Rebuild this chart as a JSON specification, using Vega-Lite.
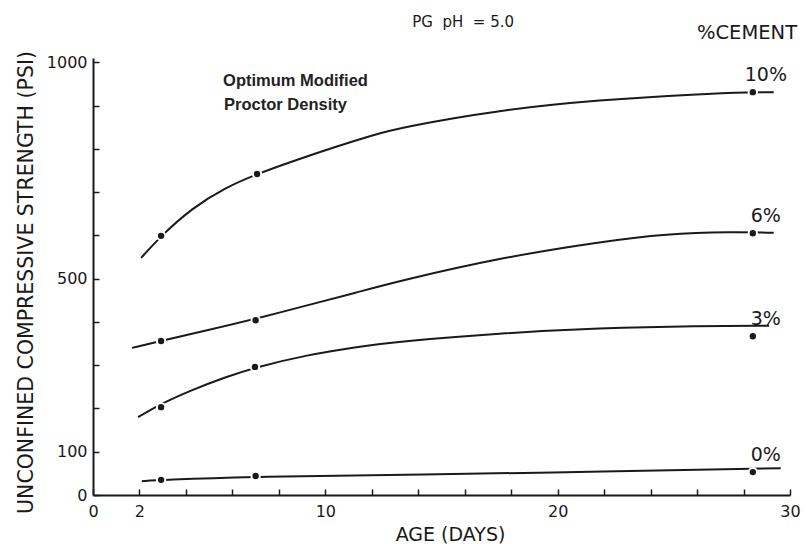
{
  "$schema": "https://vega.github.io/schema/vega-lite/v6.json",
  "width": 697,
  "height": 437,
  "autosize": {"type": "none"},
  "padding": {"left": 93, "top": 58, "right": 16, "bottom": 49},
  "background": "white",
  "config": {
    "view": {"stroke": null},
    "axis": {
      "grid": false,
      "domainColor": "#1a1a1a",
      "domainWidth": 2,
      "tickColor": "#1a1a1a",
      "tickWidth": 1.5,
      "labelColor": "#1a1a1a",
      "titleColor": "#1a1a1a",
      "labelFont": "DejaVu Sans",
      "titleFont": "DejaVu Sans",
      "titleFontWeight": "normal",
      "labelFlush": false,
      "labelOverlap": false,
      "labelBound": false
    }
  },
  "datasets": {
    "curves": [
      {"series": "10%", "day": 2.07, "psi": 548},
      {"series": "10%", "day": 2.93, "psi": 599},
      {"series": "10%", "day": 4.26, "psi": 663},
      {"series": "10%", "day": 5.68, "psi": 710},
      {"series": "10%", "day": 7.06, "psi": 742},
      {"series": "10%", "day": 8.57, "psi": 771},
      {"series": "10%", "day": 10.5, "psi": 806},
      {"series": "10%", "day": 12.0, "psi": 831},
      {"series": "10%", "day": 13.2, "psi": 849},
      {"series": "10%", "day": 17.5, "psi": 890},
      {"series": "10%", "day": 21.8, "psi": 913},
      {"series": "10%", "day": 26.1, "psi": 927},
      {"series": "10%", "day": 28.4, "psi": 931},
      {"series": "10%", "day": 29.3, "psi": 931},
      {"series": "6%", "day": 1.68, "psi": 340},
      {"series": "6%", "day": 2.93, "psi": 356},
      {"series": "6%", "day": 4.95, "psi": 381},
      {"series": "6%", "day": 7.0, "psi": 407},
      {"series": "6%", "day": 9.25, "psi": 439},
      {"series": "6%", "day": 11.28, "psi": 467},
      {"series": "6%", "day": 13.2, "psi": 495},
      {"series": "6%", "day": 17.5, "psi": 548},
      {"series": "6%", "day": 21.8, "psi": 585},
      {"series": "6%", "day": 24.7, "psi": 604},
      {"series": "6%", "day": 27.5, "psi": 608},
      {"series": "6%", "day": 29.3, "psi": 606},
      {"series": "3%", "day": 1.94, "psi": 180},
      {"series": "3%", "day": 2.93, "psi": 211},
      {"series": "3%", "day": 4.26, "psi": 243},
      {"series": "3%", "day": 5.68, "psi": 272},
      {"series": "3%", "day": 6.97, "psi": 295},
      {"series": "3%", "day": 9.25, "psi": 324},
      {"series": "3%", "day": 11.28, "psi": 342},
      {"series": "3%", "day": 13.2, "psi": 355},
      {"series": "3%", "day": 17.5, "psi": 374},
      {"series": "3%", "day": 21.8, "psi": 386},
      {"series": "3%", "day": 26.1, "psi": 391},
      {"series": "3%", "day": 29.1, "psi": 391},
      {"series": "0%", "day": 2.1, "psi": 32},
      {"series": "0%", "day": 2.93, "psi": 35},
      {"series": "0%", "day": 7.0, "psi": 43},
      {"series": "0%", "day": 14.08, "psi": 47},
      {"series": "0%", "day": 22.0, "psi": 54},
      {"series": "0%", "day": 29.6, "psi": 62}
    ],
    "points": [
      {"series": "10%", "day": 2.93, "psi": 599},
      {"series": "10%", "day": 7.06, "psi": 742},
      {"series": "10%", "day": 28.4, "psi": 931},
      {"series": "6%", "day": 2.93, "psi": 356},
      {"series": "6%", "day": 7.0, "psi": 404},
      {"series": "6%", "day": 28.4, "psi": 605},
      {"series": "3%", "day": 2.93, "psi": 203},
      {"series": "3%", "day": 6.97, "psi": 296},
      {"series": "3%", "day": 28.4, "psi": 367},
      {"series": "0%", "day": 2.93, "psi": 35},
      {"series": "0%", "day": 7.0, "psi": 44},
      {"series": "0%", "day": 28.4, "psi": 53}
    ]
  },
  "layer": [
    {
      "data": {"name": "curves"},
      "mark": {"type": "line", "interpolate": "basis", "color": "#1a1a1a", "strokeWidth": 2},
      "encoding": {
        "x": {
          "field": "day",
          "type": "quantitative",
          "scale": {"domain": [0, 30], "nice": false, "zero": false},
          "axis": {
            "title": "AGE (DAYS)",
            "values": [0, 2, 4, 6, 8, 10, 12, 14, 16, 18, 20, 22, 24, 26, 28, 30],
            "labelExpr": "indexof([0,2,10,20,30], datum.value) >= 0 ? datum.label : ''",
            "tickSize": -6,
            "labelPadding": 14,
            "labelFontSize": 16,
            "titleFontSize": 19,
            "titleX": 357,
            "titleY": 45,
            "titleAlign": "center",
            "titleBaseline": "alphabetic"
          }
        },
        "y": {
          "field": "psi",
          "type": "quantitative",
          "scale": {"domain": [0, 1010], "nice": false},
          "axis": {
            "title": "UNCONFINED COMPRESSIVE STRENGTH (PSI)",
            "format": "d",
            "values": [0, 100, 200, 300, 400, 500, 600, 700, 800, 900, 1000],
            "labelExpr": "indexof([0,100,500,1000], datum.value) >= 0 ? datum.label : ''",
            "tickSize": -6,
            "labelPadding": 12,
            "labelFontSize": 16,
            "titleFontSize": 20.5,
            "titleX": -61,
            "titleY": 224,
            "titleAlign": "center",
            "titleBaseline": "alphabetic"
          }
        },
        "detail": {"field": "series"}
      }
    },
    {
      "data": {"name": "points"},
      "mark": {"type": "point", "filled": true, "fill": "#1a1a1a", "stroke": "white", "strokeWidth": 2, "size": 70, "opacity": 1},
      "encoding": {
        "x": {"field": "day", "type": "quantitative"},
        "y": {"field": "psi", "type": "quantitative"}
      }
    },
    {
      "data": {"name": "points"},
      "transform": [{"filter": "datum.day > 20"}],
      "mark": {"type": "text", "font": "DejaVu Sans", "fontSize": 19, "color": "#1a1a1a", "dx": 13, "dy": -17, "align": "center", "baseline": "middle"},
      "encoding": {
        "x": {"field": "day", "type": "quantitative"},
        "y": {"field": "psi", "type": "quantitative"},
        "text": {"field": "series"}
      }
    },
    {
      "data": {"values": [{}]},
      "mark": {"type": "text", "text": "PG\u00a0\u00a0pH\u00a0\u00a0= 5.0", "font": "DejaVu Sans", "fontSize": 15, "color": "#1a1a1a", "align": "center", "baseline": "middle"},
      "encoding": {"x": {"datum": 15.93}, "y": {"datum": 1093}}
    },
    {
      "data": {"values": [{}]},
      "mark": {"type": "text", "text": "%CEMENT", "font": "DejaVu Sans", "fontSize": 19.5, "color": "#1a1a1a", "align": "center", "baseline": "middle"},
      "encoding": {"x": {"datum": 28.15}, "y": {"datum": 1068}}
    },
    {
      "data": {"values": [{}]},
      "mark": {"type": "text", "text": "Optimum Modified", "font": "Liberation Sans", "fontWeight": "bold", "fontSize": 16.5, "color": "#222222", "align": "left", "baseline": "middle"},
      "encoding": {"x": {"datum": 5.6}, "y": {"datum": 957}}
    },
    {
      "data": {"values": [{}]},
      "mark": {"type": "text", "text": "Proctor Density", "font": "Liberation Sans", "fontWeight": "bold", "fontSize": 16.5, "color": "#222222", "align": "left", "baseline": "middle"},
      "encoding": {"x": {"datum": 5.64}, "y": {"datum": 901}}
    }
  ]
}
